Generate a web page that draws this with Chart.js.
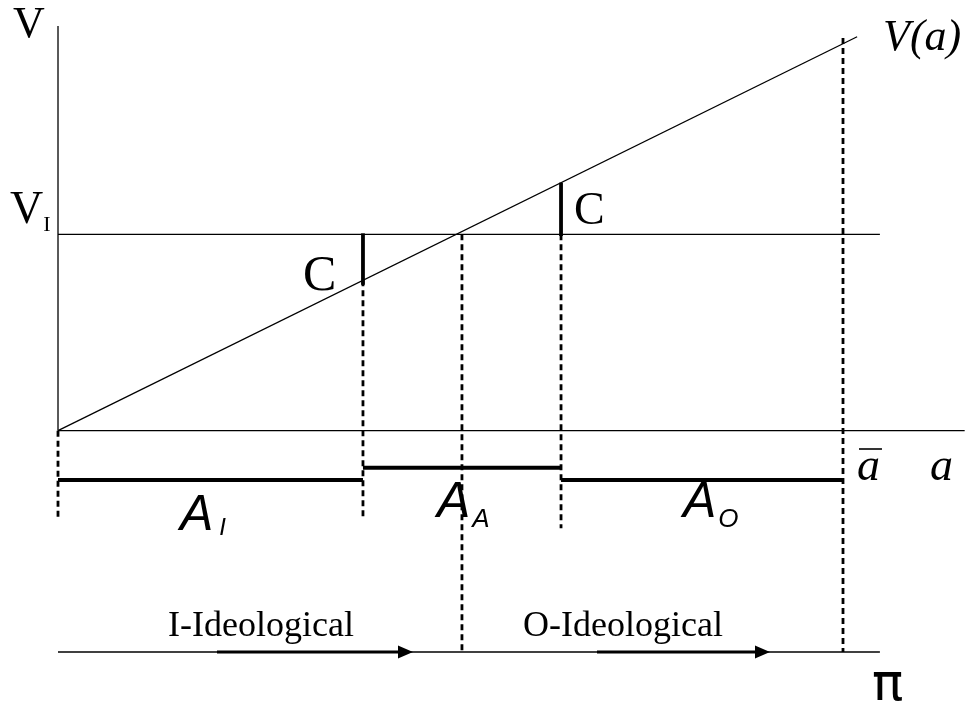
<!DOCTYPE html>
<html>
<head>
<meta charset="utf-8">
<script src="https://cdn.jsdelivr.net/npm/chart.js@4"></script>
<style>
  html, body { margin: 0; padding: 0; background: #fff; }
  #wrap { width: 971px; height: 710px; }
</style>
</head>
<body>
<div id="wrap"><canvas id="chart"></canvas></div>
<script>
// key points on the a axis: 0, a_I, a_A, a_O, a-bar
const cutA = [0, 0.3885, 0.5146, 0.6408, 1.0];
const vI = 0.5075;
const vLineA = [0, 1.018];   // V(a) = a
const vLineV = [0, 1.018];
const axisTopV = 1.046;
const aAxisEnd = 1.155;
const guideEnd = 1.047;      // end of V_I line and of the pi line
const piLevel = -0.5718;

// dashed guides, one per cut point
const dashTop = [0, 0.3885, vI, vI, 1.015];
const dashBottom = [-0.226, -0.226, piLevel, -0.252, piLevel];

// the two C gaps
const cBarA = [0.3885, 0.6408];
const cBarLow = [0.377, 0.503];
const cBarHigh = [0.51, 0.641];

// A_I, A_A, A_O intervals
const regionFrom = [0, 0.3885, 0.6408];
const regionTo = [0.3885, 0.6408, 1.0];
const regionLevel = [-0.1274, -0.0955, -0.1274];

// arrows on the pi line
const arrowStart = [0.2025, 0.6866];
const arrowEnd = [0.4522, 0.907];

function seg(x1, y1, x2, y2, extra) {
    return Object.assign({
        data: [{ x: x1, y: y1 }, { x: x2, y: y2 }],
        showLine: true,
        pointRadius: 0,
        borderColor: '#000',
        backgroundColor: '#000',
        borderWidth: 1.3,
        fill: false
    }, extra || {});
}

const datasets = [];
// 1. axes and lines
datasets.push(seg(0, 0, 0, axisTopV));
datasets.push(seg(0, 0, aAxisEnd, 0));
datasets.push(seg(0, vI, guideEnd, vI));
datasets.push(seg(vLineA[0], vLineV[0], vLineA[1], vLineV[1]));
datasets.push(seg(0, piLevel, guideEnd, piLevel));

// 2. dashed guides
cutA.forEach((a, i) => {
    datasets.push(seg(a, dashTop[i], a, dashBottom[i], { borderWidth: 2.8, borderDash: [6, 4] }));
});

// 3. C bars
cBarA.forEach((a, i) => {
    datasets.push(seg(a, cBarLow[i], a, cBarHigh[i], { borderWidth: 3.8 }));
});

// 4. interval bars
regionFrom.forEach((a, i) => {
    datasets.push(seg(a, regionLevel[i], regionTo[i], regionLevel[i], { borderWidth: 4 }));
});

// 5. arrows
arrowStart.forEach((a, i) => {
    datasets.push(seg(a, piLevel, arrowEnd[i] - 0.012, piLevel, { borderWidth: 3, arrowTip: arrowEnd[i] }));
});

const labels = [
    { a: -0.0573, v: 1.0173, text: 'V', font: '44px "Liberation Serif"' },
    { a: -0.0611, v: 0.5367, text: 'V', font: '46px "Liberation Serif"', sub: 'I', subFont: '22px "Liberation Serif"', dx: 0, dy: 8 },
    { a: 0.3121, v: 0.3636, text: 'C', font: '50px "Liberation Serif"' },
    { a: 0.6573, v: 0.5341, text: 'C', font: '46px "Liberation Serif"' },
    { a: 1.0510, v: 0.9837, text: 'V(a)', font: 'italic 44px "Liberation Serif"' },
    { a: 1.0178, v: -0.1274, text: 'a', font: 'italic 46px "Liberation Serif"', bar: true },
    { a: 1.1108, v: -0.1274, text: 'a', font: 'italic 46px "Liberation Serif"' },
    { a: 0.1554, v: -0.2566, text: 'A', font: 'italic 50px "Liberation Sans"', sub: 'I', subFont: 'italic 24px "Liberation Sans"', dx: 6, dy: 5 },
    { a: 0.4828, v: -0.2230, text: 'A', font: 'italic 50px "Liberation Sans"', sub: 'A', subFont: 'italic 26px "Liberation Sans"', dx: 2, dy: 10 },
    { a: 0.7962, v: -0.2230, text: 'A', font: 'italic 50px "Liberation Sans"', sub: 'O', subFont: 'italic 26px "Liberation Sans"', dx: 2, dy: 10 },
    { a: 0.1401, v: -0.5315, text: 'I-Ideological', font: '36px "Liberation Serif"' },
    { a: 0.5924, v: -0.5315, text: 'O-Ideological', font: '36px "Liberation Serif"' },
    { a: 1.0369, v: -0.6959, text: 'π', font: '52px "DejaVu Sans"' }
];

const diagramPlugin = {
    id: 'diagram',
    afterDatasetsDraw(chart) {
        const ctx = chart.ctx;
        const xs = chart.scales.x, ys = chart.scales.y;
        ctx.save();
        ctx.fillStyle = '#000';
        ctx.strokeStyle = '#000';

        // arrow heads
        chart.data.datasets.forEach(ds => {
            if (ds.arrowTip === undefined) return;
            const tx = xs.getPixelForValue(ds.arrowTip);
            const ty = ys.getPixelForValue(ds.data[1].y);
            ctx.beginPath();
            ctx.moveTo(tx, ty);
            ctx.lineTo(tx - 15, ty - 6.5);
            ctx.lineTo(tx - 15, ty + 6.5);
            ctx.closePath();
            ctx.fill();
        });

        // text
        ctx.textAlign = 'left';
        ctx.textBaseline = 'alphabetic';
        labels.forEach(l => {
            const px = xs.getPixelForValue(l.a);
            const py = ys.getPixelForValue(l.v);
            ctx.font = l.font;
            ctx.fillText(l.text, px, py);
            const w = ctx.measureText(l.text).width;
            if (l.sub) {
                ctx.font = l.subFont;
                ctx.fillText(l.sub, px + w + l.dx, py + l.dy);
            }
            if (l.bar) {
                ctx.lineWidth = 1.6;
                ctx.beginPath();
                ctx.moveTo(px + 2, py - 31);
                ctx.lineTo(px + w + 2, py - 31);
                ctx.stroke();
            }
        });
        ctx.restore();
    }
};

new Chart(document.getElementById('chart').getContext('2d'), {
    type: 'scatter',
    data: { datasets: datasets },
    options: {
        responsive: true,
        maintainAspectRatio: false,
        animation: false,
        layout: { padding: 0 },
        scales: {
            x: { type: 'linear', min: -0.07389, max: 1.16306, display: false },
            y: { type: 'linear', min: -0.7217, max: 1.1129, display: false }
        },
        plugins: { legend: { display: false }, tooltip: { enabled: false } }
    },
    plugins: [diagramPlugin]
});
</script>
</body>
</html>
